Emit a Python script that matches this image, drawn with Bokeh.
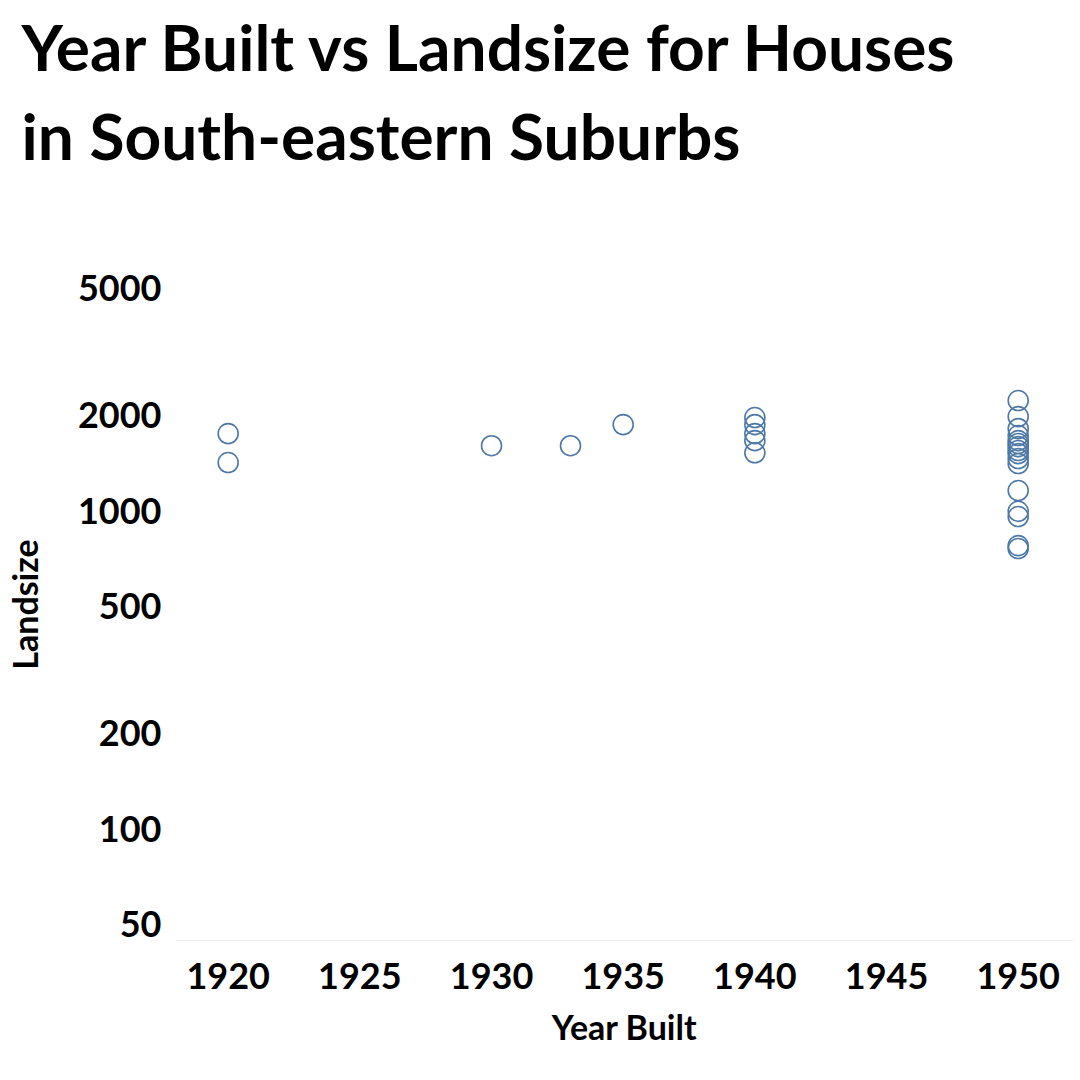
from bokeh.plotting import figure
from bokeh.models import ColumnDataSource, FixedTicker, PrintfTickFormatter, Title
from bokeh.embed import file_html
from bokeh.resources import INLINE

# Year built and land size (m2)
year_built = [1920, 1920,
              1930, 1933, 1935,
              1940, 1940, 1940, 1940, 1940,
              1950, 1950, 1950, 1950, 1950, 1950, 1950, 1950,
              1950, 1950, 1950, 1950, 1950, 1950, 1950, 1950]
landsize = [1746, 1416,
            1600, 1600, 1864,
            1961, 1863, 1746, 1660, 1520,
            2218, 1975, 1810, 1722, 1660, 1625, 1589, 1545,
            1511, 1458, 1406, 1156, 995, 958, 776, 760]

x_ticks = [1920, 1925, 1930, 1935, 1940, 1945, 1950]
y_ticks = [50, 100, 200, 500, 1000, 2000, 5000]

src = ColumnDataSource(dict(x=year_built, y=landsize))

FONT = "Lato"

p = figure(frame_width=898, frame_height=672, y_axis_type="log",
           x_range=(1918.0, 1952.1), y_range=(44.5, 5770),
           output_backend="svg", toolbar_location=None,
           min_border_left=164, min_border_right=2, min_border_top=0,
           min_border_bottom=10)
p.outline_line_color = None
p.grid.visible = False

p.scatter("x", "y", source=src, marker="circle", size=20,
          fill_color=None, line_color="#4e79a7", line_width=1.6)

t2 = Title(text="in South-eastern Suburbs", text_font=FONT, text_font_size="64px",
           text_font_style="bold", text_color="#000000", offset=-154)
t1 = Title(text="Year Built vs Landsize for Houses", text_font=FONT, text_font_size="64px",
           text_font_style="bold", text_color="#000000", offset=-154)
p.add_layout(Title(text=" ", text_font_size="70px"), "above")
p.add_layout(t2, "above")
p.add_layout(t1, "above")

p.xaxis.ticker = FixedTicker(ticks=x_ticks)
p.yaxis.ticker = FixedTicker(ticks=y_ticks, minor_ticks=[])
p.yaxis.formatter = PrintfTickFormatter(format="%d")

for ax in (p.xaxis[0], p.yaxis[0]):
    ax.major_label_text_font = FONT
    ax.major_label_text_font_size = "36px"
    ax.major_label_text_font_style = "bold"
    ax.major_label_text_color = "#000000"
    ax.axis_label_text_font = FONT
    ax.axis_label_text_font_size = "34px"
    ax.axis_label_text_font_style = "bold"
    ax.axis_label_text_color = "#000000"
    ax.major_tick_line_color = None
    ax.minor_tick_line_color = None

p.xaxis.axis_label = "Year Built"
p.yaxis.axis_label = "Landsize"
p.xaxis.axis_line_color = "#eeeeee"
p.yaxis.axis_line_color = None
p.yaxis.major_label_standoff = 8
p.xaxis.major_label_standoff = 16
p.yaxis.axis_label_standoff = 30
p.xaxis.axis_label_standoff = 14

open("out.html", "w").write(file_html(p, INLINE))
